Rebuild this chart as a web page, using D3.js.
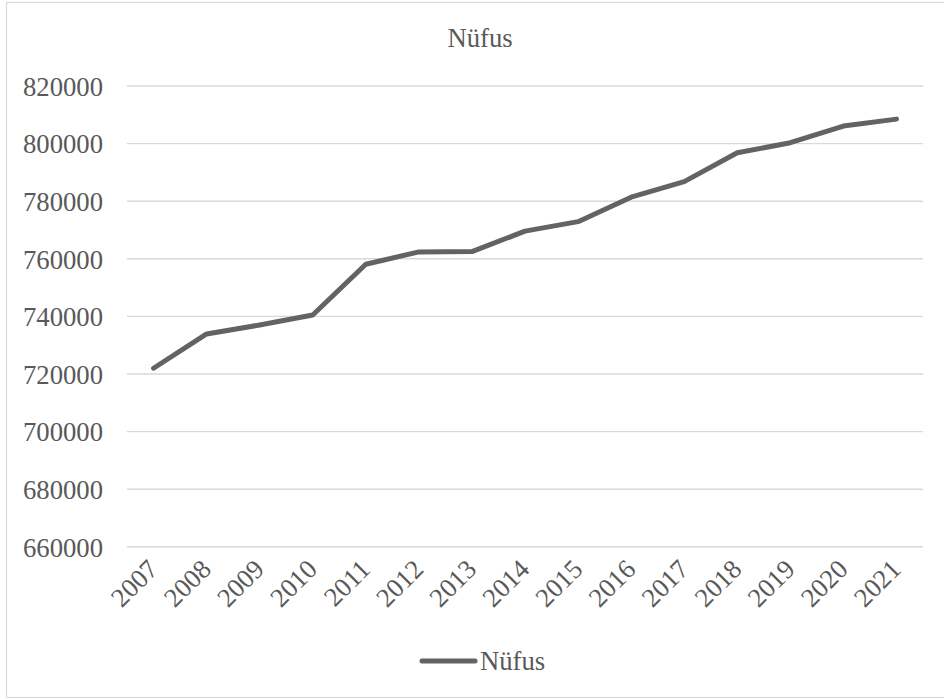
<!DOCTYPE html>
<html>
<head>
<meta charset="utf-8">
<script src="https://cdn.jsdelivr.net/npm/d3@7"></script>
<style>
  html, body { margin: 0; padding: 0; background: #ffffff; }
  svg { display: block; }
  svg text { font-family: 'Liberation Serif', 'DejaVu Serif', serif !important; fill: #595959; }
</style>
</head>
<body>
<svg id="chart" width="944" height="699"></svg>
<script>
// Population by year
const years = ["2007", "2008", "2009", "2010", "2011", "2012", "2013", "2014",
               "2015", "2016", "2017", "2018", "2019", "2020", "2021"];
const population = [722000, 733900, 737000, 740500, 758100, 762400, 762500, 769600,
                    772900, 781400, 786800, 796800, 800300, 806100, 808500];
const yTicks = [660000, 680000, 700000, 720000, 740000, 760000, 780000, 800000, 820000];
const seriesName = "Nüfus";
const chartTitle = "Nüfus";

const plot = { left: 127, right: 923, top: 86, bottom: 546.8 };
const fontSize = 26.7;
const lineColor = "#636363";

const svg = d3.select("#chart");

// chart frame
svg.append("rect")
  .attr("x", 6.5).attr("y", 2.5)
  .attr("width", 944).attr("height", 695)
  .attr("fill", "#ffffff")
  .attr("stroke", "#d9d9d9").attr("stroke-width", 1.2);

const x = d3.scaleBand().domain(years).range([plot.left, plot.right]).paddingInner(0).paddingOuter(0);
const y = d3.scaleLinear().domain([660000, 820000]).range([plot.bottom, plot.top]);
const cx = d => x(d) + x.bandwidth() / 2;

// horizontal gridlines
svg.append("g")
  .selectAll("line")
  .data(yTicks)
  .join("line")
  .attr("x1", plot.left).attr("x2", plot.right)
  .attr("y1", d => y(d)).attr("y2", d => y(d))
  .attr("stroke", "#d9d9d9").attr("stroke-width", 1.4);

// y axis labels
const yAxis = d3.axisLeft(y).tickValues(yTicks).tickSize(0).tickPadding(0).tickFormat(d3.format("d"));
const gy = svg.append("g").attr("transform", "translate(103,0)").call(yAxis);
gy.select(".domain").remove();
gy.attr("font-family", null).attr("font-size", fontSize);
gy.selectAll("text")
  .attr("fill", "#595959")
  .attr("dy", "0.35em");

// x axis labels, rotated
const xAxis = d3.axisBottom(x).tickSize(0).tickPadding(0);
const gx = svg.append("g").attr("transform", `translate(0,${plot.bottom})`).call(xAxis);
gx.select(".domain").remove();
gx.attr("font-family", null).attr("font-size", fontSize);
gx.selectAll(".tick text")
  .attr("fill", "#595959")
  .attr("text-anchor", "end")
  .attr("y", 0)
  .attr("dy", 0)
  .attr("transform", "translate(6,24) rotate(-45)");

// series line
const line = d3.line()
  .x((d, i) => cx(years[i]))
  .y(d => y(d));

svg.append("path")
  .datum(population)
  .attr("d", line)
  .attr("fill", "none")
  .attr("stroke", lineColor)
  .attr("stroke-width", 5)
  .attr("stroke-linejoin", "round")
  .attr("stroke-linecap", "round");

// title
svg.append("text")
  .attr("x", 480).attr("y", 47)
  .attr("text-anchor", "middle")
  .attr("font-size", fontSize)
  .text(chartTitle);

// legend
const legend = svg.append("g");
legend.append("line")
  .attr("x1", 422).attr("x2", 475)
  .attr("y1", 661).attr("y2", 661)
  .attr("stroke", lineColor).attr("stroke-width", 5)
  .attr("stroke-linecap", "round");
legend.append("text")
  .attr("x", 480).attr("y", 670)
  .attr("font-size", fontSize)
  .text(seriesName);
</script>
</body>
</html>
